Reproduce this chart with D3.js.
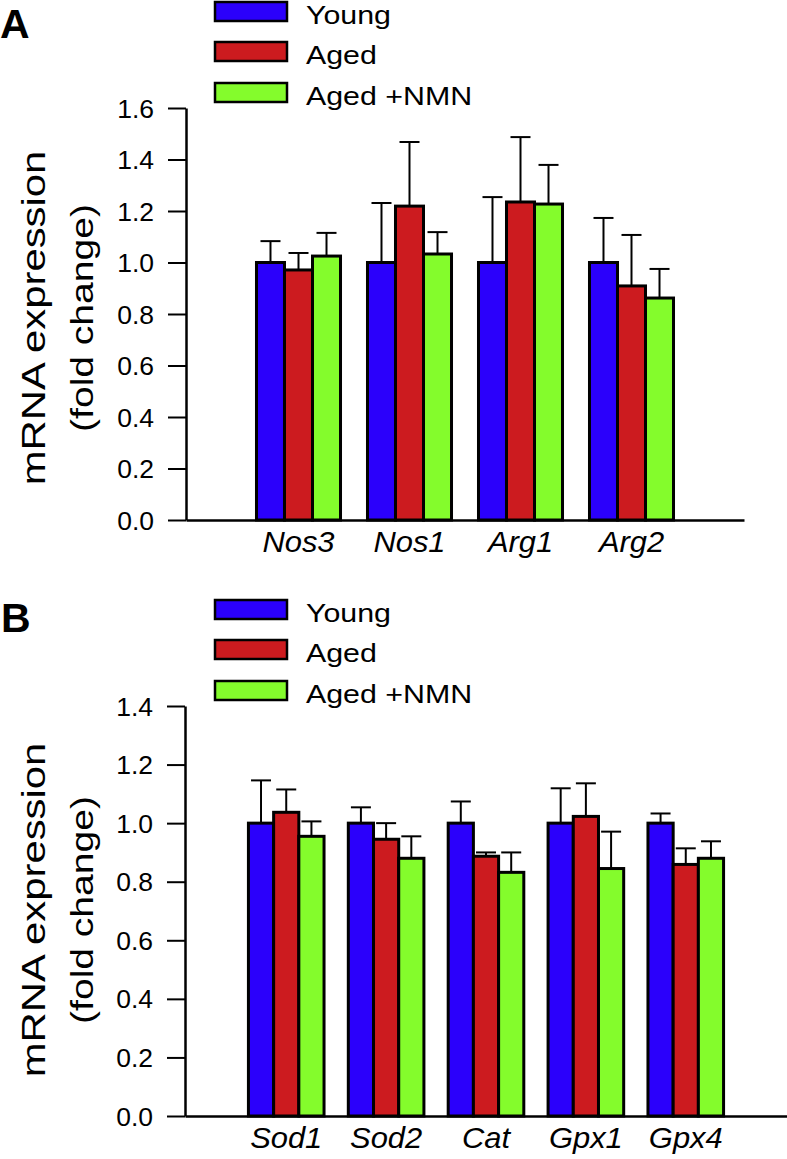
<!DOCTYPE html>
<html>
<head>
<meta charset="utf-8">
<script src="https://cdn.jsdelivr.net/npm/d3@7"></script>
<style>
  body { margin: 0; background: #fff; }
  text { font-family: "Liberation Sans", Arial, sans-serif; fill: #000; }
</style>
</head>
<body>
<div id="chart"></div>
<script>
// series + colours
var seriesNames = ["Young", "Aged", "Aged +NMN"];
var seriesColors = ["#2b00fb", "#cc1b1f", "#84fc2c"];

// panel A
var genesA = ["Nos3", "Nos1", "Arg1", "Arg2"];
var youngA = [1.0, 1.0, 1.0, 1.0];
var youngErrA = [0.083, 0.231, 0.254, 0.173];
var agedA = [0.971, 1.219, 1.235, 0.909];
var agedErrA = [0.066, 0.249, 0.252, 0.198];
var nmnA = [1.025, 1.033, 1.227, 0.862];
var nmnErrA = [0.090, 0.085, 0.152, 0.113];
var ticksA = [0, 0.2, 0.4, 0.6, 0.8, 1.0, 1.2, 1.4, 1.6];

// panel B
var genesB = ["Sod1", "Sod2", "Cat", "Gpx1", "Gpx4"];
var youngB = [1.0, 1.0, 1.0, 1.0, 1.0];
var youngErrB = [0.146, 0.054, 0.074, 0.119, 0.033];
var agedB = [1.037, 0.945, 0.887, 1.023, 0.859];
var agedErrB = [0.078, 0.055, 0.013, 0.113, 0.055];
var nmnB = [0.955, 0.880, 0.832, 0.845, 0.880];
var nmnErrB = [0.051, 0.075, 0.068, 0.126, 0.058];
var ticksB = [0, 0.2, 0.4, 0.6, 0.8, 1.0, 1.2, 1.4];

var svg = d3.select("#chart")
  .append("svg")
  .attr("width", 787)
  .attr("height", 1159);

// text is a bit wider than Arial in the original, so stretch it along its direction
function stretchedText(g, x, y, str, size, sx, anchor, rotate) {
  var t = g.append("text")
    .attr("transform", `translate(${x},${y}) rotate(${rotate || 0}) scale(${sx},1)`)
    .attr("font-size", size)
    .attr("text-anchor", anchor || "start")
    .text(str);
  return t;
}

function drawPanel(opt) {
  var g = svg.append("g");

  // table of rows for the bars
  var rows = opt.genes.map(function(gene, i) {
    return {
      gene: gene,
      vals: [
        { s: 0, v: opt.young[i], e: opt.youngErr[i] },
        { s: 1, v: opt.aged[i], e: opt.agedErr[i] },
        { s: 2, v: opt.nmn[i], e: opt.nmnErr[i] }
      ]
    };
  });

  var x0 = d3.scaleBand()
    .domain(opt.genes)
    .range([opt.left, opt.right])
    .paddingInner(0.243)
    .paddingOuter(0.635);

  var x1 = d3.scaleBand()
    .domain([0, 1, 2])
    .range([0, x0.bandwidth()]);

  var y = d3.scaleLinear()
    .domain([0, opt.max])
    .range([opt.bottom, opt.top]);

  // y axis
  var yAxis = g.append("g")
    .attr("transform", `translate(${opt.left},0)`)
    .call(d3.axisLeft(y).tickValues(opt.ticks).tickFormat(d3.format(".1f"))
      .tickSize(18).tickSizeOuter(0));
  yAxis.attr("font-family", null);
  yAxis.select(".domain").attr("stroke-width", 2.5);
  yAxis.selectAll(".tick line").attr("stroke-width", 2);
  yAxis.selectAll(".tick text")
    .attr("font-size", 25)
    .attr("x", -32 / 1.06)
    .attr("dy", "0.36em")
    .attr("transform", "scale(1.06,1)");

  // bars
  var groups = g.selectAll(".grp")
    .data(rows)
    .enter()
    .append("g")
    .attr("class", "grp")
    .attr("transform", d => `translate(${x0(d.gene)},0)`);

  groups.selectAll("line.err")
    .data(d => d.vals)
    .enter()
    .append("line")
    .attr("class", "err")
    .attr("x1", d => x1(d.s) + x1.bandwidth() / 2)
    .attr("x2", d => x1(d.s) + x1.bandwidth() / 2)
    .attr("y1", d => y(d.v))
    .attr("y2", d => y(d.v + d.e))
    .attr("stroke", "#000")
    .attr("stroke-width", 2);

  groups.selectAll("line.cap")
    .data(d => d.vals)
    .enter()
    .append("line")
    .attr("class", "cap")
    .attr("x1", d => x1(d.s) + x1.bandwidth() / 2 - 10)
    .attr("x2", d => x1(d.s) + x1.bandwidth() / 2 + 10)
    .attr("y1", d => y(d.v + d.e))
    .attr("y2", d => y(d.v + d.e))
    .attr("stroke", "#000")
    .attr("stroke-width", 2);

  groups.selectAll("rect")
    .data(d => d.vals)
    .enter()
    .append("rect")
    .attr("x", d => x1(d.s))
    .attr("y", d => y(d.v))
    .attr("width", x1.bandwidth())
    .attr("height", d => y(0) - y(d.v))
    .attr("fill", d => seriesColors[d.s])
    .attr("stroke", "#000")
    .attr("stroke-width", 3);

  // x axis
  var xAxis = g.append("g")
    .attr("transform", `translate(0,${opt.bottom})`)
    .call(d3.axisBottom(x0).tickSize(0).tickSizeOuter(0).tickPadding(11));
  xAxis.attr("font-family", null);
  xAxis.select(".domain").attr("stroke-width", 2.5);
  xAxis.selectAll(".tick text")
    .attr("font-size", 30)
    .attr("font-style", "italic")
    .attr("transform", "scale(1.03,1)");

  // y title
  stretchedText(g, 45, opt.titleY, "mRNA expression", 34, 1.23, "middle", -90);
  stretchedText(g, 93, opt.titleY, "(fold change)", 32, 1.22, "middle", -90);

  // panel letter
  g.append("text")
    .attr("x", opt.letterX)
    .attr("y", opt.letterY)
    .attr("font-size", 41)
    .attr("font-weight", "bold")
    .text(opt.letter);

  // legend
  seriesNames.forEach(function(name, i) {
    var ly = opt.legendY[i];
    g.append("rect")
      .attr("x", 215)
      .attr("y", ly)
      .attr("width", 72)
      .attr("height", 19)
      .attr("fill", seriesColors[i])
      .attr("stroke", "#000")
      .attr("stroke-width", 2.5);
    stretchedText(g, 306, ly + 21.5, name, 25.5, 1.19, "start", 0);
  });
}

drawPanel({
  genes: genesA, young: youngA, youngErr: youngErrA, aged: agedA, agedErr: agedErrA,
  nmn: nmnA, nmnErr: nmnErrA, ticks: ticksA, max: 1.6,
  left: 186, right: 744, top: 108, bottom: 520,
  titleY: 318, letter: "A", letterX: 0, letterY: 38,
  legendY: [2, 42, 83]
});

drawPanel({
  genes: genesB, young: youngB, youngErr: youngErrB, aged: agedB, agedErr: agedErrB,
  nmn: nmnB, nmnErr: nmnErrB, ticks: ticksB, max: 1.4,
  left: 185, right: 787, top: 706, bottom: 1116,
  titleY: 910, letter: "B", letterX: 1, letterY: 632,
  legendY: [600, 640, 681]
});
</script>
</body>
</html>
